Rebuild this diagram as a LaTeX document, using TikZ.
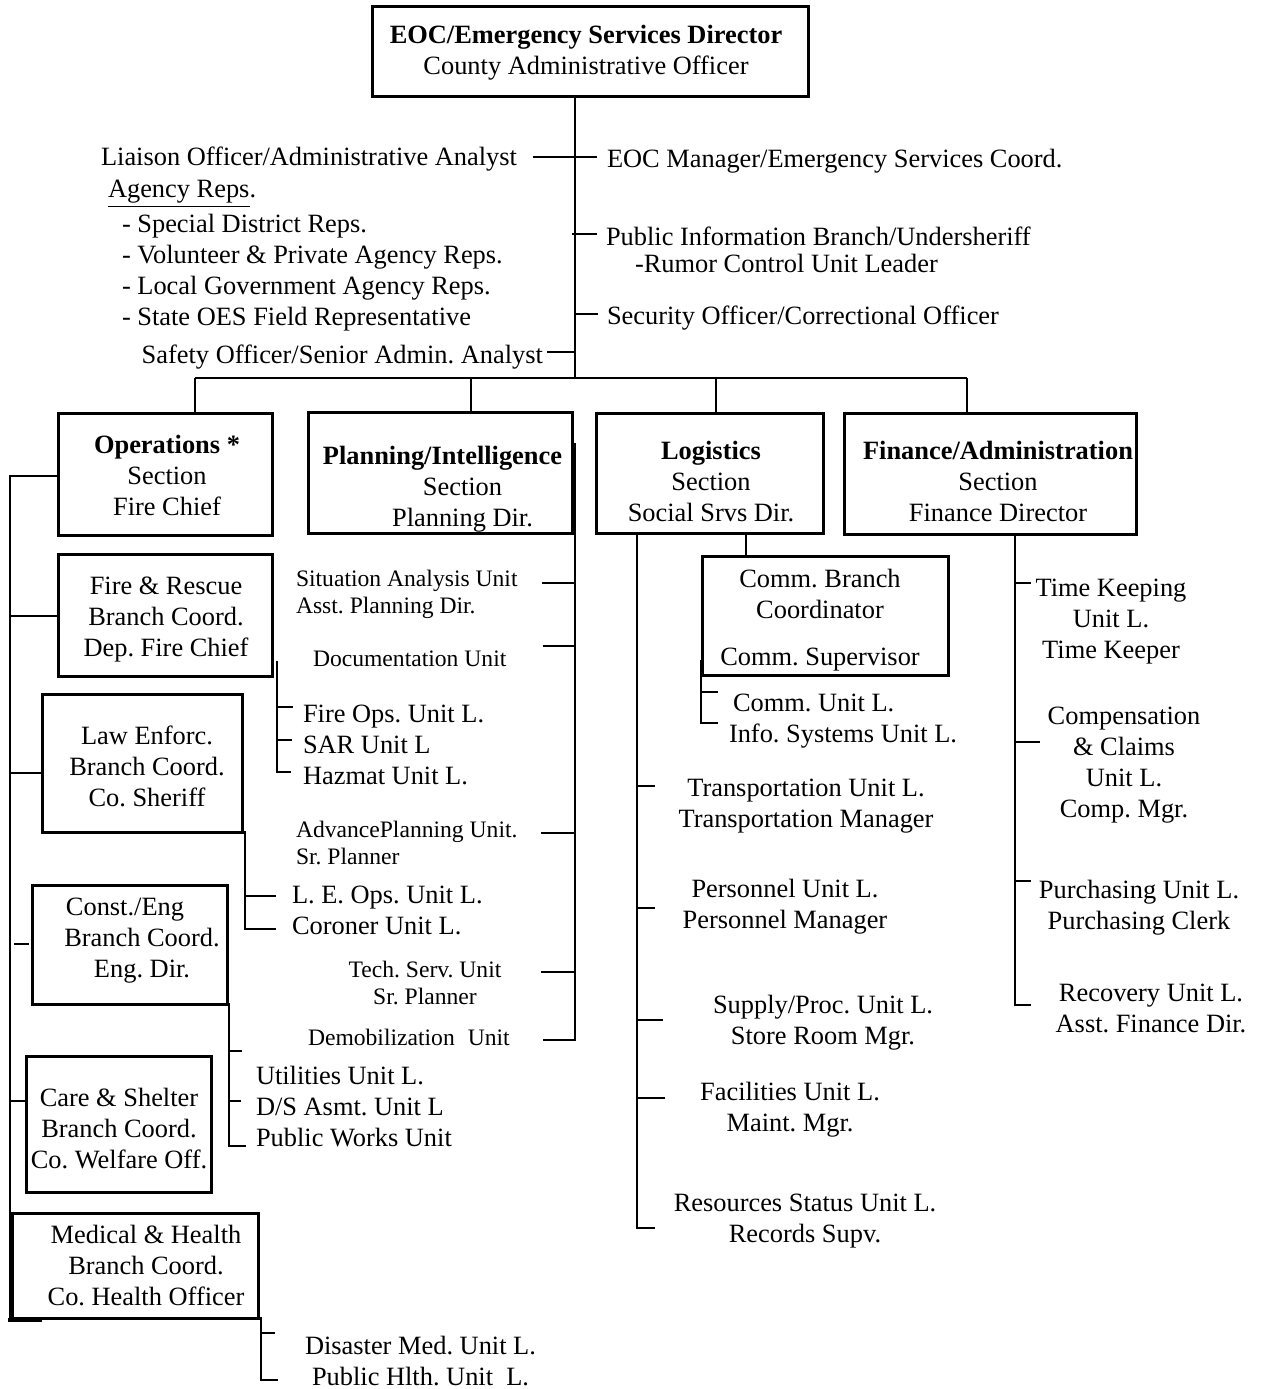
\documentclass[tikz,border=0pt]{standalone}
\usepackage{fontspec}
\setmainfont{Liberation Serif}
\usetikzlibrary{calc}
\newcommand\mainsz{\fontsize{13.2}{15.5}\selectfont}
\newcommand\unitsz{\fontsize{11.8}{13.8}\selectfont}

\begin{document}
\frenchspacing
\begin{tikzpicture}[x=0.5pt,y=-0.5pt,
  boxst/.style={draw, line width=1.5pt, inner sep=0pt, outer sep=0pt},
  lbl/.style={font=\mainsz, inner sep=0pt, outer sep=0pt, yshift=-1.5pt},
  lblc/.style={lbl, align=center},
  lbll/.style={lbl, align=left},
  unit/.style={font=\unitsz, inner sep=0pt, outer sep=0pt, yshift=-1.5pt},
  unitl/.style={unit, align=left},
  unitc/.style={unit, align=center},
  wire/.style={line width=1.4pt},
]
\fill[white] (0,0) rectangle (1261,1389);

% ---------- boxes ----------
\node[boxst, minimum width=218pt,  minimum height=45pt]   (eoc)   at (590,51)      {};
\node[boxst, minimum width=107pt,  minimum height=61pt]   (ops)   at (165,474)     {};
\node[boxst, minimum width=132pt,  minimum height=60.5pt] (plan)  at (440,472.5)   {};
\node[boxst, minimum width=113.5pt,minimum height=60pt]   (log)   at (709.5,473)   {};
\node[boxst, minimum width=146pt,  minimum height=60.5pt] (fin)   at (990,473.5)   {};
\node[boxst, minimum width=107pt,  minimum height=61pt]   (fire)  at (165,615)     {};
\node[boxst, minimum width=100pt,  minimum height=69pt]   (law)   at (142,763)     {};
\node[boxst, minimum width=97.5pt, minimum height=59.5pt] (const) at (129.5,944.5) {};
\node[boxst, minimum width=92.5pt, minimum height=68pt]   (care)  at (118.5,1124)  {};
\node[boxst, minimum width=123pt,  minimum height=52.5pt] (med)   at (135,1265.5)  {};
\node[boxst, minimum width=123pt,  minimum height=59.5pt] (comm)  at (825,615.5)   {};

% ---------- box texts ----------
\node[lblc] (eocT) at (586,50) {\textbf{EOC/Emergency Services Director}\\County Administrative Officer};
\node[lblc] (opsT) at (167,472) {\textbf{Operations *}\\Section\\Fire Chief};
\node[lblc] (planT) at (442.5,486) {\textbf{Planning/Intelligence}\\\hspace*{20pt}Section\\\hspace*{20pt}Planning Dir.};
\node[lblc] (logT) at (711,479) {\textbf{Logistics}\\Section\\Social Srvs Dir.};
\node[lblc] (finT) at (998,478) {\textbf{Finance/Administration}\\Section\\Finance Director};
\node[lblc] (fireT) at (166,617) {Fire \& Rescue\\Branch Coord.\\Dep. Fire Chief};
\node[lblc] (lawT) at (147,763) {Law Enforc.\\Branch Coord.\\Co. Sheriff};
\node[lblc] (constT) at (142,938) {Const./Eng\hspace*{17pt}\\Branch Coord.\\Eng. Dir.};
\node[lblc] (careT) at (119,1126) {Care \& Shelter\\Branch Coord.\\Co. Welfare Off.};
\node[lblc] (medT) at (146,1263) {Medical \& Health\\Branch Coord.\\Co. Health Officer};
\node[lblc] (commT) at (820,617) {Comm. Branch\\Coordinator\\[8pt]Comm. Supervisor};

% ---------- staff positions ----------
\node[lbl, anchor=east] (liaison) at (517,156) {Liaison Officer/Administrative Analyst};
\node[lbl, anchor=west] (agency) at (108,191) {\underline{Agency Reps}.};
\node[lbll, anchor=west] (reps) at (122,270) {- Special District Reps.\\- Volunteer \& Private Agency Reps.\\- Local Government Agency Reps.\\- State OES Field Representative};
\node[lbl, anchor=east] (safety) at (543,354) {Safety Officer/Senior Admin. Analyst};
\node[lbl, anchor=west] (eocmgr) at (607,158) {EOC Manager/Emergency Services Coord.};
\node[lbl, anchor=west] (pio) at (606,233) {Public Information Branch/Undersheriff};
\node[lbl, anchor=west] (rumor) at (635,260) {-Rumor Control Unit Leader};
\node[lbl, anchor=west] (security) at (607,315) {Security Officer/Correctional Officer};

% ---------- staff connectors ----------
\coordinate (hub) at (575,378);
\draw[wire] (hub |- eoc.south) -- (hub);
\draw[wire] (hub |- liaison.east) ++(-42,-2) -- ++(64,0);
\draw[wire] (hub |- pio.west) ++(-3,-2) -- ++(25,0);
\draw[wire] (hub |- security.west) ++(0,-4) -- ++(23,0);
\draw[wire] (hub |- safety.east) ++(0,-5) -- ++(-28,0);

% ---------- section bar ----------
\coordinate (dOps)  at (195,378);
\coordinate (dPlan) at (471,378);
\coordinate (dLog)  at (716,378);
\coordinate (dFin)  at (967,378);
\draw[wire] (dOps) -- (dFin);
\foreach \c/\b in {dOps/ops, dPlan/plan, dLog/log, dFin/fin}
  \draw[wire] (\c) -- (\c |- \b.north);

% ---------- operations branches ----------
\coordinate (obot) at (10,1320);
\draw[wire] (ops.west |- 0,476) -| (obot);
\draw[line width=2.3pt] (obot) ++(-2,0) -- ++(34,0);
\draw[wire] (obot |- 0,616) -- (fire.west |- 0,616);
\draw[wire] (obot |- 0,773) -- (law.west |- 0,773);
\draw[wire] (obot |- 0,944) ++(4,0) -- ++(15,0);
\draw[wire] (obot |- 0,1101) -- (care.west |- 0,1101);
\draw[wire] (obot |- 0,1214) -- (med.north west);

% fire & rescue units
\node[lbll, anchor=west] (fireU) at (303,742) {Fire Ops. Unit L.\\SAR Unit L\\Hazmat Unit L.};
\coordinate (fb) at (277,661);
\draw[wire] (fb) |- (291,772);
\draw[wire] (fb |- 0,707) -- ++(16,0);
\draw[wire] (fb |- 0,740) -- ++(15,0);

% law enforcement units
\node[lbll, anchor=west] (lawU) at (292,907) {L. E. Ops. Unit L.\\Coroner Unit L.};
\draw[wire] (law.south east) -- (245,832) |- (276,929);
\draw[wire] (245,896) -- (276,896);

% construction / engineering units
\node[lbll, anchor=west] (constU) at (256,1104) {Utilities Unit L.\\D/S Asmt. Unit L\\Public Works Unit};
\draw[wire] (const.south east) -- (229,1004) |- (246,1146);
\draw[wire] (229,1051) -- (242,1051);
\draw[wire] (229,1101) -- (241,1101);

% medical & health units
\node[lbll, anchor=west] (medU) at (305,1358) {Disaster Med. Unit L.\\\hspace*{3.5pt}Public Hlth. Unit\ \ L.};
\draw[wire] (med.south east) -- (261,1318) |- (278,1380);
\draw[wire] (261,1333) -- (275,1333);

% ---------- planning / intelligence units ----------
\node[unitl, anchor=west] (sitU) at (296,591.5) {Situation Analysis Unit\\Asst. Planning Dir.};
\node[unit, anchor=west] (docU) at (313,656) {Documentation Unit};
\node[unitl, anchor=west] (advU) at (296,840) {AdvancePlanning Unit.\\Sr. Planner};
\node[unitc] (techU) at (425,980) {Tech. Serv. Unit\\Sr. Planner};
\node[unit, anchor=west] (demobU) at (308,1034) {Demobilization\hspace{0.55em}Unit};
\coordinate (pb) at (575,443);
\draw[wire] (pb) |- (543,1040);
\draw[wire] (pb |- 0,583) -- ++(-33,0);
\draw[wire] (pb |- 0,646) -- ++(-32,0);
\draw[wire] (pb |- 0,833) -- ++(-34,0);
\draw[wire] (pb |- 0,972) -- ++(-34,0);

% ---------- logistics units ----------
\draw[wire] (log.south -| 746,0) -- (comm.north -| 746,0);
\node[lbll, anchor=west] (commU) at (729,718) {\hspace*{2pt}Comm. Unit L.\\Info. Systems Unit L.};
\draw[wire] (701,660) |- (718,723);
\draw[wire] (701,692) -- (718,692);

\node[lblc] (transU) at (806,803) {Transportation Unit L.\\Transportation Manager};
\node[lblc] (persU) at (785,904) {Personnel Unit L.\\Personnel Manager};
\node[lblc] (supU) at (823,1019.5) {Supply/Proc. Unit L.\\Store Room Mgr.};
\node[lblc] (facU) at (790,1107) {Facilities Unit L.\\Maint. Mgr.};
\node[lblc] (resU) at (805,1218.5) {Resources Status Unit L.\\Records Supv.};
\coordinate (lb) at (637,533);
\draw[wire] (lb) |- (655,1228);
\draw[wire] (lb |- 0,786) -- ++(18,0);
\draw[wire] (lb |- 0,908) -- ++(18,0);
\draw[wire] (lb |- 0,1020) -- ++(26,0);
\draw[wire] (lb |- 0,1098) -- ++(28,0);

% ---------- finance / administration units ----------
\node[lblc] (timeU) at (1111,618.5) {Time Keeping\\Unit L.\\Time Keeper};
\node[lblc] (compU) at (1124,762) {Compensation\\\& Claims\\Unit L.\\Comp. Mgr.};
\node[lblc] (purU) at (1139,905) {Purchasing Unit L.\\Purchasing Clerk};
\node[lblc] (recU) at (1151,1005) {Recovery Unit L.\\Asst. Finance Dir.};
\coordinate (fnb) at (1015,534);
\draw[wire] (fnb) |- (1031,1005);
\draw[wire] (fnb |- 0,583) -- ++(16,0);
\draw[wire] (fnb |- 0,742) -- ++(25,0);
\draw[wire] (fnb |- 0,881) -- ++(16,0);

\end{tikzpicture}
\end{document}
